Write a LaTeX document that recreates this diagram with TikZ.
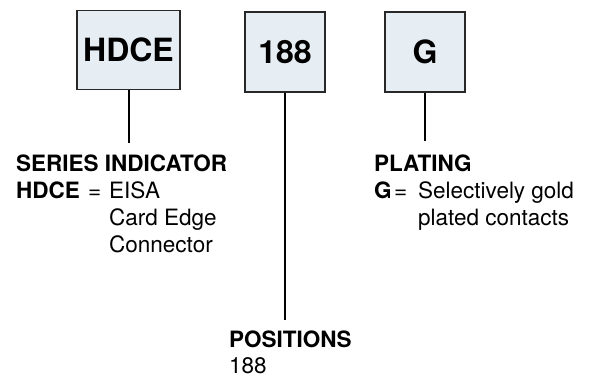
\documentclass[tikz,border=0pt]{standalone}
\usepackage{fontspec}
\setmainfont{TeX Gyre Heros}
\definecolor{boxfill}{RGB}{230,238,244}
\definecolor{boxline}{RGB}{40,40,40}
\begin{document}
\begin{tikzpicture}[x=1pt,y=1pt,
    codebox/.style={draw=boxline,line width=1.2pt,fill=boxfill,inner sep=0pt,
      minimum width=80pt,minimum height=80pt,font=\fontsize{32}{36}\selectfont\bfseries},
    lbl/.style={anchor=base west,inner sep=0pt,font=\fontsize{22.5}{27}\selectfont},
    lblb/.style={lbl,font=\fontsize{22.5}{27}\selectfont\bfseries},
    stem/.style={line width=2pt}]
    \useasboundingbox (0,0) rectangle (594,-377);

    \node[codebox,minimum width=103pt,minimum height=79pt] (hdce) at (128.5,-50.3) {HDCE};
    \node[codebox] (pos) at (285,-52) {188};
    \node[codebox] (plt) at (425,-52) {G};

    \coordinate (hdceend) at (128.5,-143);
    \coordinate (posend) at (285,-320);
    \coordinate (pltend) at (425,-141);

    \draw[stem] (hdce.south) -- (hdceend);
    \draw[stem] (pos.south) -- (posend);
    \draw[stem] (plt.south) -- (pltend);

    \node[lblb] (sertitle) at (16,-171) {SERIES INDICATOR};
    \node[lblb] (serkey) at (16,-198) {HDCE};
    \node[lbl] (sereq) at (88,-198) {=};
    \node[lbl] (serone) at (109,-198) {EISA};
    \node[lbl] (sertwo) at (109,-225) {Card Edge};
    \node[lbl] (serthree) at (109,-252) {Connector};

    \node[lblb] (plttitle) at (374,-171) {PLATING};
    \node[lblb] (pltkey) at (374,-198) {G};
    \node[lbl] (plteq) at (394,-198) {=};
    \node[lbl] (pltone) at (418,-198) {Selectively gold};
    \node[lbl] (plttwo) at (418,-225) {plated contacts};

    \node[lblb] (postitle) at (229,-347) {POSITIONS};
    \node[lbl] (posval) at (229,-373) {188};
\end{tikzpicture}
\end{document}
